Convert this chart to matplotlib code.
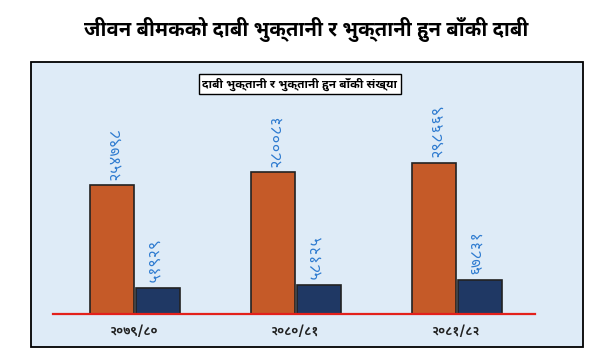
import matplotlib
matplotlib.use("Agg")
import matplotlib.pyplot as plt
from matplotlib import font_manager
from matplotlib.patches import Rectangle
import numpy as np
import os

# data
years = ["२०७९/८०", "२०८०/८१", "२०८१/८२"]
paid = [254798, 280083, 298669]
pending = [51929, 58125, 67831]
paid_labels = ["२५४७९८", "२८००८३", "२९८६६९"]
pending_labels = ["५१९२९", "५८१२५", "६७८३१"]

title = "जीवन बीमकको दाबी भुक्तानी र भुक्तानी हुन बाँकी दाबी"
box_title = "दाबी भुक्तानी र भुक्तानी हुन बाँकी संख्या"

# devanagari font: use one of the installed google fonts if there
prefer = ["NotoSansDevanagari", "Mukta", "Hind", "Khula", "Sarala", "Palanquin"]
files = font_manager.findSystemFonts()
deva = None
for p in prefer:
    hits = [f for f in files if os.path.basename(f).startswith(p)]
    if hits:
        for f in hits:
            font_manager.fontManager.addfont(f)
        deva = font_manager.FontProperties(fname=hits[0]).get_name()
        break
plt.rcParams["font.family"] = [deva, "DejaVu Sans"] if deva else ["DejaVu Sans"]

W, H = 613, 356
fig = plt.figure(figsize=(W / 100, H / 100), dpi=100)

# light blue panel
fig.patches.append(Rectangle((31 / W, 1 - 347 / H), (583 - 31) / W, (347 - 62) / H,
                             transform=fig.transFigure, facecolor="#deebf7",
                             edgecolor="black", linewidth=1.3, zorder=-5))

t1 = fig.text(0.5, 1 - 30 / H, title, ha="center", va="center", fontsize=17,
              fontweight="bold", color="black")

t2 = fig.text(300 / W, 1 - 84 / H, box_title, ha="center", va="center", fontsize=8.5,
              fontweight="bold", color="black",
              bbox=dict(boxstyle="square,pad=0.3", facecolor="white", edgecolor="black", linewidth=1))

ax = fig.add_axes([53 / W, 1 - 314 / H, (535 - 53) / W, (314 - 62) / H])
ax.set_facecolor("none")

x = np.arange(len(years))
w = 0.275
ax.bar(x - w / 2, paid, w, color="#c55a28", edgecolor="#222222", linewidth=1.2, zorder=2)
ax.bar(x + w / 2 + 0.01, pending, w, color="#1f3864", edgecolor="#222222", linewidth=1.2, zorder=2)

ax.axhline(0, color="#e3201b", linewidth=1.6, zorder=3, clip_on=False)

for i in range(len(years)):
    ax.annotate(paid_labels[i], (x[i] - w / 2, paid[i]), xytext=(2, 4),
                textcoords="offset points", rotation=90, ha="center", va="bottom",
                fontsize=11.5, color="#2e7bd0")
    ax.annotate(pending_labels[i], (x[i] + w / 2, pending[i]), xytext=(-2, 4),
                textcoords="offset points", rotation=90, ha="center", va="bottom",
                fontsize=11.5, color="#2e7bd0")

ax.set_xlim(-0.503, 2.49)
ax.set_ylim(0, 498000)
ax.set_xticks(x)
ax.set_xticklabels(years, fontsize=9, fontweight="bold", color="#222222")
ax.tick_params(axis="x", length=0, pad=8)
ax.set_yticks([])
for s in ax.spines.values():
    s.set_visible(False)

# shrink the two titles to the widths they have in the original
r = fig.canvas.get_renderer()
for t, target in [(t1, 442), (t2, 200)]:
    wpx = t.get_window_extent(r).width
    if wpx > target:
        t.set_fontsize(t.get_fontsize() * target / wpx)

fig.savefig("out.png", dpi=100)
